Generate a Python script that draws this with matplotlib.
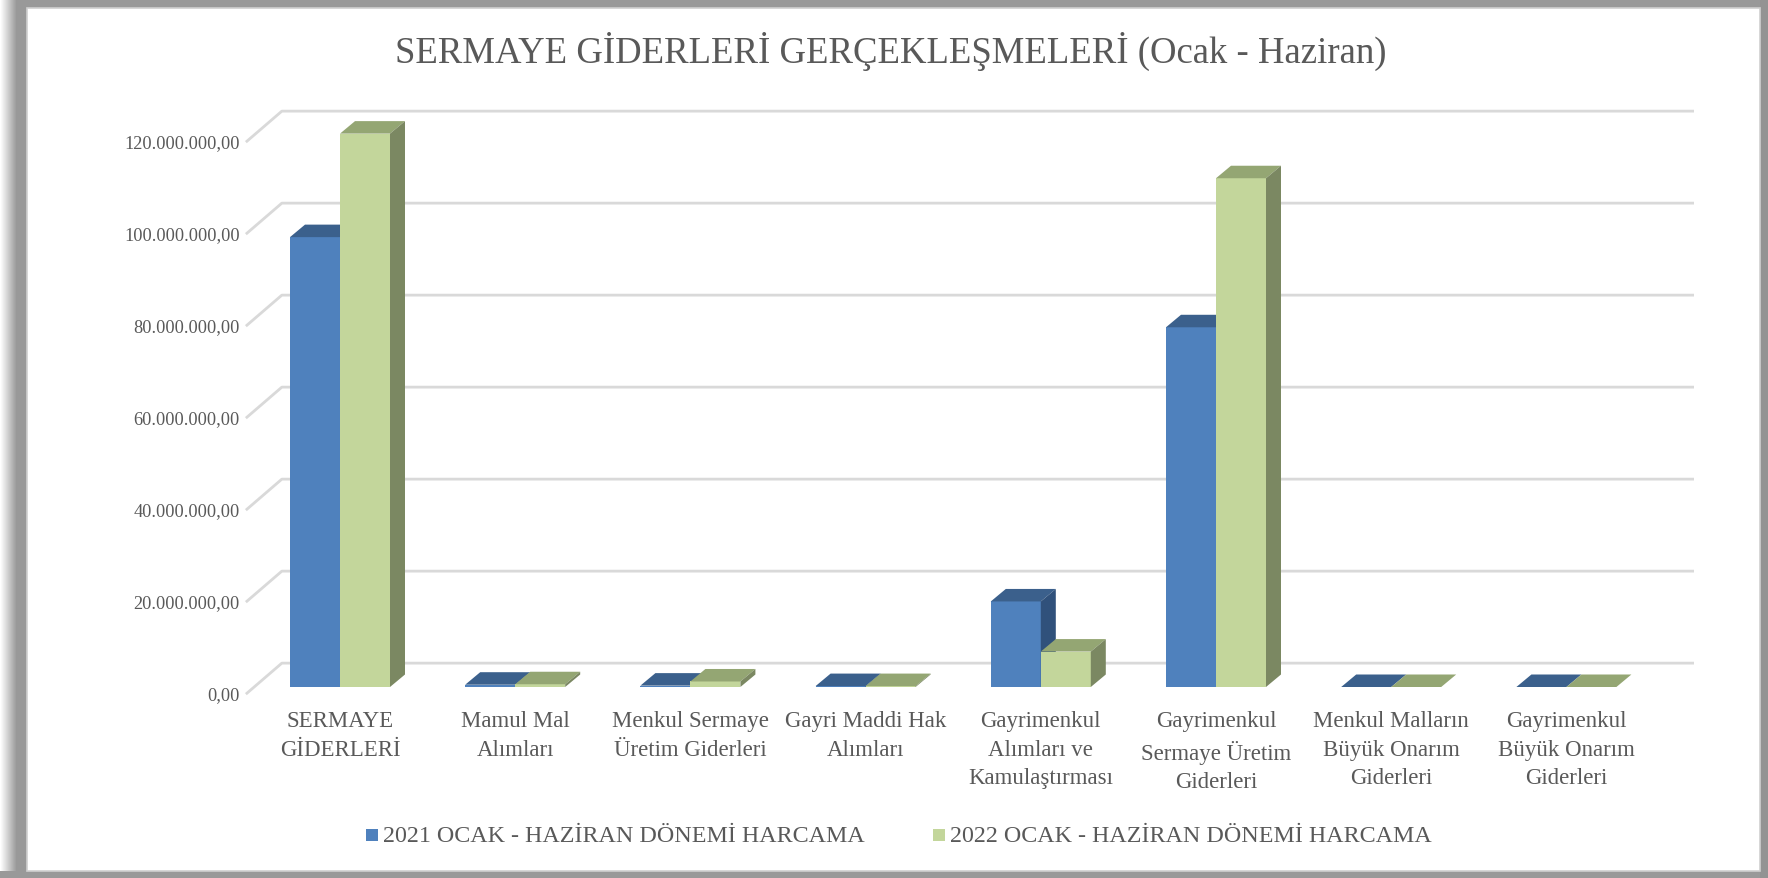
import numpy as np
import matplotlib.pyplot as plt
from matplotlib.patches import Polygon, Rectangle

categories = ['SERMAYE\nGİDERLERİ', 'Mamul Mal\nAlımları', 'Menkul Sermaye\nÜretim Giderleri',
              'Gayri Maddi Hak\nAlımları', 'Gayrimenkul\nAlımları ve\nKamulaştırması',
              'Gayrimenkul\nSermaye Üretim\nGiderleri', 'Menkul Malların\nBüyük Onarım\nGiderleri',
              'Gayrimenkul\nBüyük Onarım\nGiderleri']
harcama_2021 = [97.8e6, 0.5e6, 0.3e6, 0.2e6, 18.6e6, 78.2e6, 0.0, 0.0]
harcama_2022 = [120.3e6, 0.6e6, 1.2e6, 0.2e6, 7.7e6, 110.6e6, 0.0, 0.0]
series_names = ['2021 OCAK - HAZİRAN DÖNEMİ HARCAMA', '2022 OCAK - HAZİRAN DÖNEMİ HARCAMA']
y_ticks = [0, 20e6, 40e6, 60e6, 80e6, 100e6, 120e6]

W, H = 1768, 879
FONT = 'Liberation Serif'
TXT = '#595959'

# colours: front, top, side
blue = ('#4F81BD', '#3B608C', '#30517B')
green = ('#C3D69B', '#94A673', '#7B8862')

fig = plt.figure(figsize=(W / 100, H / 100), dpi=100)

# grey frame with soft shadow on the left
bg = fig.add_axes([0, 0, 1, 1])
fade = np.clip(np.arange(W) / 16.0, 0, 1)
grad = np.tile(1 - (1 - 0.6) * fade, (H, 1))
grad[:, 1760:] = 0.58
grad[872:, :] = np.minimum(grad[872:, :], 0.6)
bg.imshow(grad, cmap='gray', vmin=0, vmax=1, extent=[0, W, H, 0], aspect='auto')
bg.add_patch(Rectangle((27, 9), 1733, 863, facecolor='white', edgecolor='#D0D0D0', lw=1.2))
bg.set_xlim(0, W)
bg.set_ylim(H, 0)
bg.axis('off')

# main axes: x in category units, y in value units (front plane of the bars)
ax = fig.add_axes([0, 0, 1, 1])
ax.patch.set_alpha(0)
ppx = 175.2          # pixels per category
ppy = 92 / 20e6      # pixels per unit value
x0_px, y0_px = 340, H - 688
ax.set_xlim(-x0_px / ppx, (W - x0_px) / ppx)
ax.set_ylim(-y0_px / ppy, (H - y0_px) / ppy)
ax.axis('off')


def dx(p):
    return p / ppx


def dy(p):
    return p / ppy


# depth geometry
floor = (36, 31)
f0 = 0.23
back = (dx((1 - f0) * floor[0]), dy((1 - f0) * floor[1]))
front = (dx(-f0 * floor[0]), dy(-f0 * floor[1]))
bdep = (dx(15), dy(12.5))
xL, xR = -0.49, 7.57


def tr_fmt(v):
    return f'{v:,.2f}'.replace(',', 'X').replace('.', ',').replace('X', '.')


# gridlines: diagonal on the left wall + horizontal on the back wall
for v in y_ticks:
    ax.plot([xL + front[0], xL + back[0], xR + back[0]],
            [v + front[1], v + back[1], v + back[1]],
            color='#D9D9D9', lw=2, zorder=1, solid_capstyle='butt')
    ax.text(xL + front[0] - dx(6), v + front[1], tr_fmt(v),
            ha='right', va='center', fontsize=13.2, family=FONT, color=TXT)

bw = 50 / ppx
x = np.arange(len(categories))


def bar3d(xl, h, cols, z):
    ax.bar(xl, h, width=bw, align='edge', color=cols[0], lw=0, zorder=z)
    ax.add_patch(Polygon([(xl, h), (xl + bw, h), (xl + bw + bdep[0], h + bdep[1]), (xl + bdep[0], h + bdep[1])],
                         closed=True, facecolor=cols[1], lw=0, zorder=z))
    ax.add_patch(Polygon([(xl + bw, 0), (xl + bw + bdep[0], bdep[1]), (xl + bw + bdep[0], h + bdep[1]), (xl + bw, h)],
                         closed=True, facecolor=cols[2], lw=0, zorder=z))


for i in x:
    bar3d(i - bw, harcama_2021[i], blue, 2 + 2 * i)
    bar3d(i, harcama_2022[i], green, 3 + 2 * i)
    ax.text(i, dy(-23), categories[i], ha='center', va='top', fontsize=16.5,
            family=FONT, color=TXT, linespacing=1.47)

# title
fig.text(891 / W, 1 - 51 / H, 'SERMAYE GİDERLERİ GERÇEKLEŞMELERİ (Ocak - Haziran)',
         ha='center', va='center', fontsize=26.5, family=FONT, color=TXT)

# legend
for sx, tx, col, name in [(366, 383, blue[0], series_names[0]), (933, 950, green[0], series_names[1])]:
    bg.add_patch(Rectangle((sx, 830), 12, 12, facecolor=col, lw=0))
    bg.text(tx, 837, name, ha='left', va='center', fontsize=17.3, family=FONT, color=TXT)

fig.savefig('out.png', dpi=100)
